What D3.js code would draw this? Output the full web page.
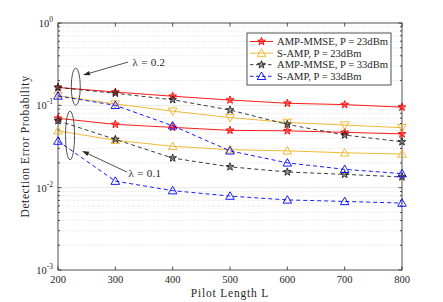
<!DOCTYPE html>
<html><head><meta charset="utf-8">
<script src="https://cdn.jsdelivr.net/npm/d3@7"></script>
<style>
body{margin:0;background:#fff;}
svg{display:block;font-family:"Liberation Serif","DejaVu Serif",serif;}
</style></head>
<body><svg id="c" width="443" height="302"></svg>
<script>
const pilotLength = [200,300,400,500,600,700,800];
const xTicks = [200,300,400,500,600,700,800];
const yTicks = [1e-3,1e-2,1e-1,1];
const yTickExp = ["-3","-2","-1","0"];
const legendLabels = ["AMP-MMSE, P = 23dBm","S-AMP, P = 23dBm","AMP-MMSE, P = 33dBm","S-AMP, P = 33dBm"];
// lambda = 0.2
const ampMmse23_l02 = [0.165,0.145,0.129,0.116,0.106,0.102,0.095];
const sAmp23_l02    = [0.131,0.104,0.085,0.071,0.062,0.0576,0.0535];
const ampMmse33_l02 = [0.165,0.140,0.117,0.0877,0.0587,0.0436,0.0361];
const sAmp33_l02    = [0.130,0.100,0.0565,0.028,0.020,0.0167,0.0148];
// lambda = 0.1
const ampMmse23_l01 = [0.0695,0.0587,0.054,0.0497,0.049,0.047,0.045];
const sAmp23_l01    = [0.049,0.0376,0.0318,0.0289,0.028,0.0265,0.0256];
const ampMmse33_l01 = [0.065,0.0386,0.0229,0.0179,0.0155,0.0145,0.0135];
const sAmp33_l01    = [0.0368,0.012,0.0092,0.0079,0.0071,0.0068,0.0065];

const styles = [
  {color:"#ff0000", dash:null, marker:"star"},
  {color:"#edb120", dash:null, marker:"tri"},
  {color:"#262626", dash:"4,3", marker:"star"},
  {color:"#0000ff", dash:"4,3", marker:"tri"}
];
const series = [
  {v:ampMmse23_l02, s:0, m:"star"},
  {v:ampMmse23_l01, s:0, m:"star"},
  {v:sAmp23_l02, s:1, m:"tridown"},
  {v:sAmp23_l01, s:1, m:"tri"},
  {v:ampMmse33_l02, s:2, m:"star"},
  {v:ampMmse33_l01, s:2, m:"star"},
  {v:sAmp33_l02, s:3, m:"tri"},
  {v:sAmp33_l01, s:3, m:"tri"}
];

const svg = d3.select("#c");
const L=58,R=402,T=23,B=270;
const x = d3.scaleLinear().domain([200,800]).range([L,R]);
const y = d3.scaleLog().domain([1e-3,1]).range([B,T]);

// grid
const g = svg.append("g");
const minor=[];
for(let e=-3;e<0;e++) for(let k=2;k<=9;k++) minor.push(k*Math.pow(10,e));
g.selectAll(".mn").data(minor).enter().append("line")
  .attr("x1",L).attr("x2",R).attr("y1",d=>y(d)).attr("y2",d=>y(d))
  .attr("stroke","#d0d0d0").attr("stroke-width",0.6).attr("stroke-dasharray","1,1.5");
g.selectAll(".mj").data([1e-2,1e-1]).enter().append("line")
  .attr("x1",L).attr("x2",R).attr("y1",d=>y(d)).attr("y2",d=>y(d))
  .attr("stroke","#e3e3e3").attr("stroke-width",0.8);

// axes box and ticks
const ax = svg.append("g").attr("stroke","#262626").attr("stroke-width",0.8);
ax.append("rect").attr("x",L).attr("y",T).attr("width",R-L).attr("height",B-T).attr("fill","none");
xTicks.forEach(t=>{
  ax.append("line").attr("x1",x(t)).attr("x2",x(t)).attr("y1",B).attr("y2",B-3.5);
  ax.append("line").attr("x1",x(t)).attr("x2",x(t)).attr("y1",T).attr("y2",T+3.5);
});
yTicks.forEach(t=>{
  ax.append("line").attr("x1",L).attr("x2",L+3.5).attr("y1",y(t)).attr("y2",y(t));
  ax.append("line").attr("x1",R).attr("x2",R-3.5).attr("y1",y(t)).attr("y2",y(t));
});
minor.forEach(t=>{
  ax.append("line").attr("x1",L).attr("x2",L+2).attr("y1",y(t)).attr("y2",y(t));
  ax.append("line").attr("x1",R).attr("x2",R-2).attr("y1",y(t)).attr("y2",y(t));
});

// tick labels
svg.append("g").selectAll("text").data(xTicks).enter().append("text")
  .attr("x",d=>x(d)).attr("y",B+13).attr("text-anchor","middle")
  .attr("font-size",10.5).attr("fill","#262626").text(d=>d);
yTicks.forEach((t,i)=>{
  const tx = svg.append("text").attr("x",L-5).attr("y",y(t)+4).attr("text-anchor","end")
    .attr("font-size",10.5).attr("fill","#262626");
  tx.append("tspan").text("10");
  tx.append("tspan").attr("dy",-5).attr("font-size",7.5).text(yTickExp[i]);
});
svg.append("text").attr("x",(L+R)/2).attr("y",297).attr("text-anchor","middle")
  .attr("font-size",11.5).attr("fill","#262626").attr("letter-spacing",0.8).text("Pilot Length L");
svg.append("text").attr("transform",`translate(29,${(T+B)/2}) rotate(-90)`).attr("text-anchor","middle")
  .attr("font-size",11.5).attr("fill","#262626").attr("letter-spacing",0.6).text("Detection Error Probability");

// markers
function markerPath(type, cx, cy){
  if(type==="star"){
    const pts=[];
    for(let i=0;i<10;i++){
      const r = i%2===0?4.1:1.7;
      const a = -Math.PI/2 + i*Math.PI/5;
      pts.push([cx+r*Math.cos(a), cy+r*Math.sin(a)]);
    }
    return "M"+pts.map(p=>p.join(",")).join("L")+"Z";
  } else if(type==="tri"){
    return `M${cx},${cy-4.3}L${cx+4.3},${cy+3.2}L${cx-4.3},${cy+3.2}Z`;
  } else {
    return `M${cx},${cy+4.3}L${cx+4.3},${cy-3.2}L${cx-4.3},${cy-3.2}Z`;
  }
}
const line = d3.line().x((d,i)=>x(pilotLength[i])).y(d=>y(d));
const pg = svg.append("g");
series.forEach(se=>{
  const st = styles[se.s];
  pg.append("path").attr("d",line(se.v)).attr("fill","none")
    .attr("stroke",st.color).attr("stroke-width",0.9).attr("stroke-dasharray",st.dash);
  se.v.forEach((v,i)=>{
    pg.append("path").attr("d",markerPath(se.m,x(pilotLength[i]),y(v)))
      .attr("fill",se.m==="star"?st.color:"none").attr("fill-opacity",se.m==="star"?0.45:0)
      .attr("stroke",st.color).attr("stroke-width",0.9);
  });
});

// annotations (in data space)
const annEll = [
  {cx:231, y1:0.284, y2:0.100},
  {cx:221, y1:0.085, y2:0.0218}
];
annEll.forEach(e=>{
  const a=y(e.y1), b=y(e.y2);
  svg.append("ellipse").attr("cx",x(e.cx)).attr("cy",(a+b)/2).attr("rx",4.5).attr("ry",(b-a)/2)
    .attr("fill","none").attr("stroke","#262626").attr("stroke-width",0.8);
});
const annArrows = [
  {x1:322,y1:0.335,x2:243.6,y2:0.233,label:"λ = 0.2",lx:330,ly:0.30},
  {x1:320,y1:0.0155,x2:241.9,y2:0.0279,label:"λ = 0.1",lx:323,ly:0.0134}
];
annArrows.forEach(a=>{
  const X1=x(a.x1),Y1=y(a.y1),X2=x(a.x2),Y2=y(a.y2);
  const ang=Math.atan2(Y2-Y1,X2-X1);
  const hl=7, hw=2.3;
  const bx=X2-hl*Math.cos(ang), by=Y2-hl*Math.sin(ang);
  svg.append("line").attr("x1",X1).attr("y1",Y1).attr("x2",bx).attr("y2",by)
    .attr("stroke","#262626").attr("stroke-width",0.8);
  svg.append("path").attr("d",`M${X2},${Y2}L${bx+hw*Math.sin(ang)},${by-hw*Math.cos(ang)}L${bx-hw*Math.sin(ang)},${by+hw*Math.cos(ang)}Z`)
    .attr("fill","#262626");
  svg.append("text").attr("x",x(a.lx)).attr("y",y(a.ly)).attr("font-size",11)
    .attr("fill","#262626").attr("letter-spacing",0.3).text(a.label);
});

// legend
const lg = svg.append("g");
lg.append("rect").attr("x",247).attr("y",33).attr("width",144).attr("height",52)
  .attr("fill","#fff").attr("stroke","#262626").attr("stroke-width",0.8);
legendLabels.forEach((lab,i)=>{
  const st=styles[i]; const cy=41.5+i*11.6;
  lg.append("line").attr("x1",250).attr("x2",273).attr("y1",cy).attr("y2",cy)
    .attr("stroke",st.color).attr("stroke-width",0.9).attr("stroke-dasharray",st.dash?"3.5,2.5":null);
  lg.append("path").attr("d",markerPath(st.marker,261.5,cy))
    .attr("fill",st.marker==="star"?st.color:"none").attr("fill-opacity",st.marker==="star"?0.45:0)
    .attr("stroke",st.color).attr("stroke-width",0.9);
  lg.append("text").attr("x",277).attr("y",cy+3.6).attr("font-size",10.6).attr("fill","#262626").text(lab);
});
</script></body></html>
